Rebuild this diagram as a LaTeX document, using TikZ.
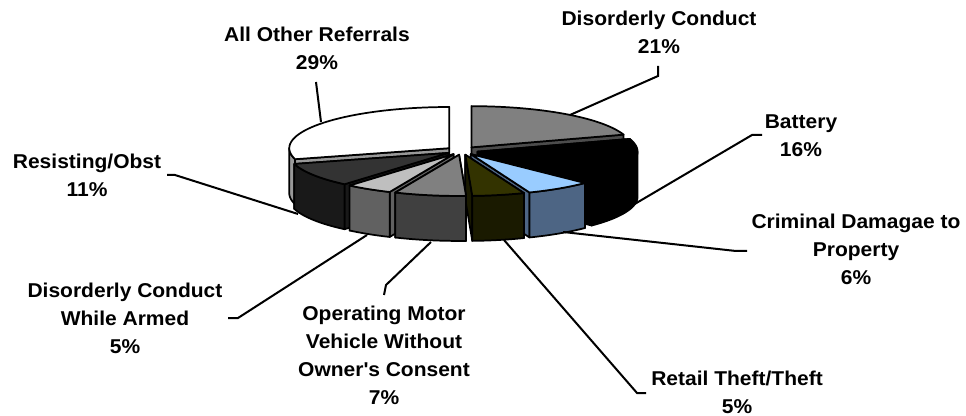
\documentclass[tikz,border=0pt]{standalone}
\usepackage{fontspec}
\setmainfont{Liberation Sans}[FakeStretch=1.05]
\definecolor{pieblue}{HTML}{99CCFF}
\definecolor{pieslate}{HTML}{4D6584}
\definecolor{pieolive}{HTML}{333300}
\definecolor{pieoliveside}{HTML}{1A1A00}
\begin{document}
\begin{tikzpicture}[x=0.75pt,y=-0.75pt,
  tag/.style={font=\bfseries\fontsize{15}{21}\selectfont, align=center, inner sep=0pt},
  lead/.style={line width=1.5pt},
  facet/.style={draw=black, line width=1.3pt, line join=round}]
\fill[white] (0,0) rectangle (966,416);
\useasboundingbox (0,0) rectangle (966,416);
\def\piedepth{1.092}
\begin{scope}[shift={(462,150.7)}, x={(120pt,0)}, y={(0,-30.9pt)}]
\foreach \s/\e/\fa/\fb/\wa/\wb/\ctop/\cside in {
  -90/-18/-90/-18/0/0/black!50/black!70,
  164.5/270/270/164.5/164.5/180/white/black!40,
  -18/44.5/-18/44.5/0/44.5/black/black,
  130.5/164.5/164.5/130.5/130.5/164.5/black!80/black!90,
  44.5/68.5/44.5/68.5/44.5/68.5/pieblue/pieslate,
  113.5/130.5/130.5/113.5/113.5/130.5/black!25/black!62,
  68.5/87.5/68.5/87.5/68.5/87.5/pieolive/pieoliveside,
  87.5/113.5/87.5/113.5/87.5/113.5/black!50/black!75}{
  \pgfmathsetmacro\m{(\s+\e)/2}
  \pgfmathtruncatemacro\haswall{\wb>\wa}
  \begin{scope}[shift={(\m:0.1)}]
    \foreach \f in {\fa,\fb}
      \filldraw[facet, fill=\cside] (0,0) -- (\f:1) -- ({cos(\f)},{sin(\f)+\piedepth}) -- (0,\piedepth) -- cycle;
    \ifnum\haswall=1
      \filldraw[facet, fill=\cside] plot[domain=\wa:\wb, samples=30, variable=\t] (\t:1)
        -- plot[domain=\wb:\wa, samples=30, variable=\t] ({cos(\t)},{sin(\t)+\piedepth}) -- cycle;
    \fi
    \filldraw[facet, fill=\ctop] (0,0) -- plot[domain=\s:\e, samples=40, variable=\t] (\t:1) -- cycle;
  \end{scope}
}
\end{scope}

\node[tag] (dcl) at (659,32.3) {Disorderly Conduct\\21\%};
\node[tag] (other) at (317,48.8) {All Other Referrals\\29\%};
\node[tag] (batt) at (801,135.3) {Battery\\16\%};
\node[tag] (crim) at (856,249.8) {Criminal Damagae to\\Property\\6\%};
\node[tag] (retail) at (737,392) {Retail Theft/Theft\\5\%};
\node[tag] (oper) at (384,355.3) {Operating Motor\\Vehicle Without\\Owner\textquotesingle s Consent\\7\%};
\node[tag] (dcwa) at (125,318.3) {Disorderly Conduct\\While Armed\\5\%};
\node[tag] (resist) at (87,175.3) {Resisting/Obst\\11\%};

\coordinate (dcl-a) at (658,66);
\coordinate (dcl-b) at (658,76);
\coordinate (dcl-c) at (570,115);
\coordinate (other-a) at (316,82);
\coordinate (other-c) at (321,122);
\coordinate (batt-a) at (762,135);
\coordinate (batt-b) at (752,135);
\coordinate (batt-c) at (633,205);
\coordinate (crim-a) at (747,251);
\coordinate (crim-b) at (736,251);
\coordinate (crim-c) at (563,232);
\coordinate (retail-a) at (646,393);
\coordinate (retail-b) at (637,393);
\coordinate (retail-c) at (504,240);
\coordinate (oper-a) at (384,295);
\coordinate (oper-b) at (386,285);
\coordinate (oper-c) at (431,242);
\coordinate (dcwa-a) at (228,318);
\coordinate (dcwa-b) at (238,318);
\coordinate (dcwa-c) at (367,235);
\coordinate (resist-a) at (167,175);
\coordinate (resist-b) at (175,175);
\coordinate (resist-c) at (298,214);

\draw[lead] (dcl-a) -- (dcl-b) -- (dcl-c);
\draw[lead] (other-a) -- (other-c);
\draw[lead] (batt-a) -- (batt-b) -- (batt-c);
\draw[lead] (crim-a) -- (crim-b) -- (crim-c);
\draw[lead] (retail-a) -- (retail-b) -- (retail-c);
\draw[lead] (oper-a) -- (oper-b) -- (oper-c);
\draw[lead] (dcwa-a) -- (dcwa-b) -- (dcwa-c);
\draw[lead] (resist-a) -- (resist-b) -- (resist-c);
\end{tikzpicture}
\end{document}
